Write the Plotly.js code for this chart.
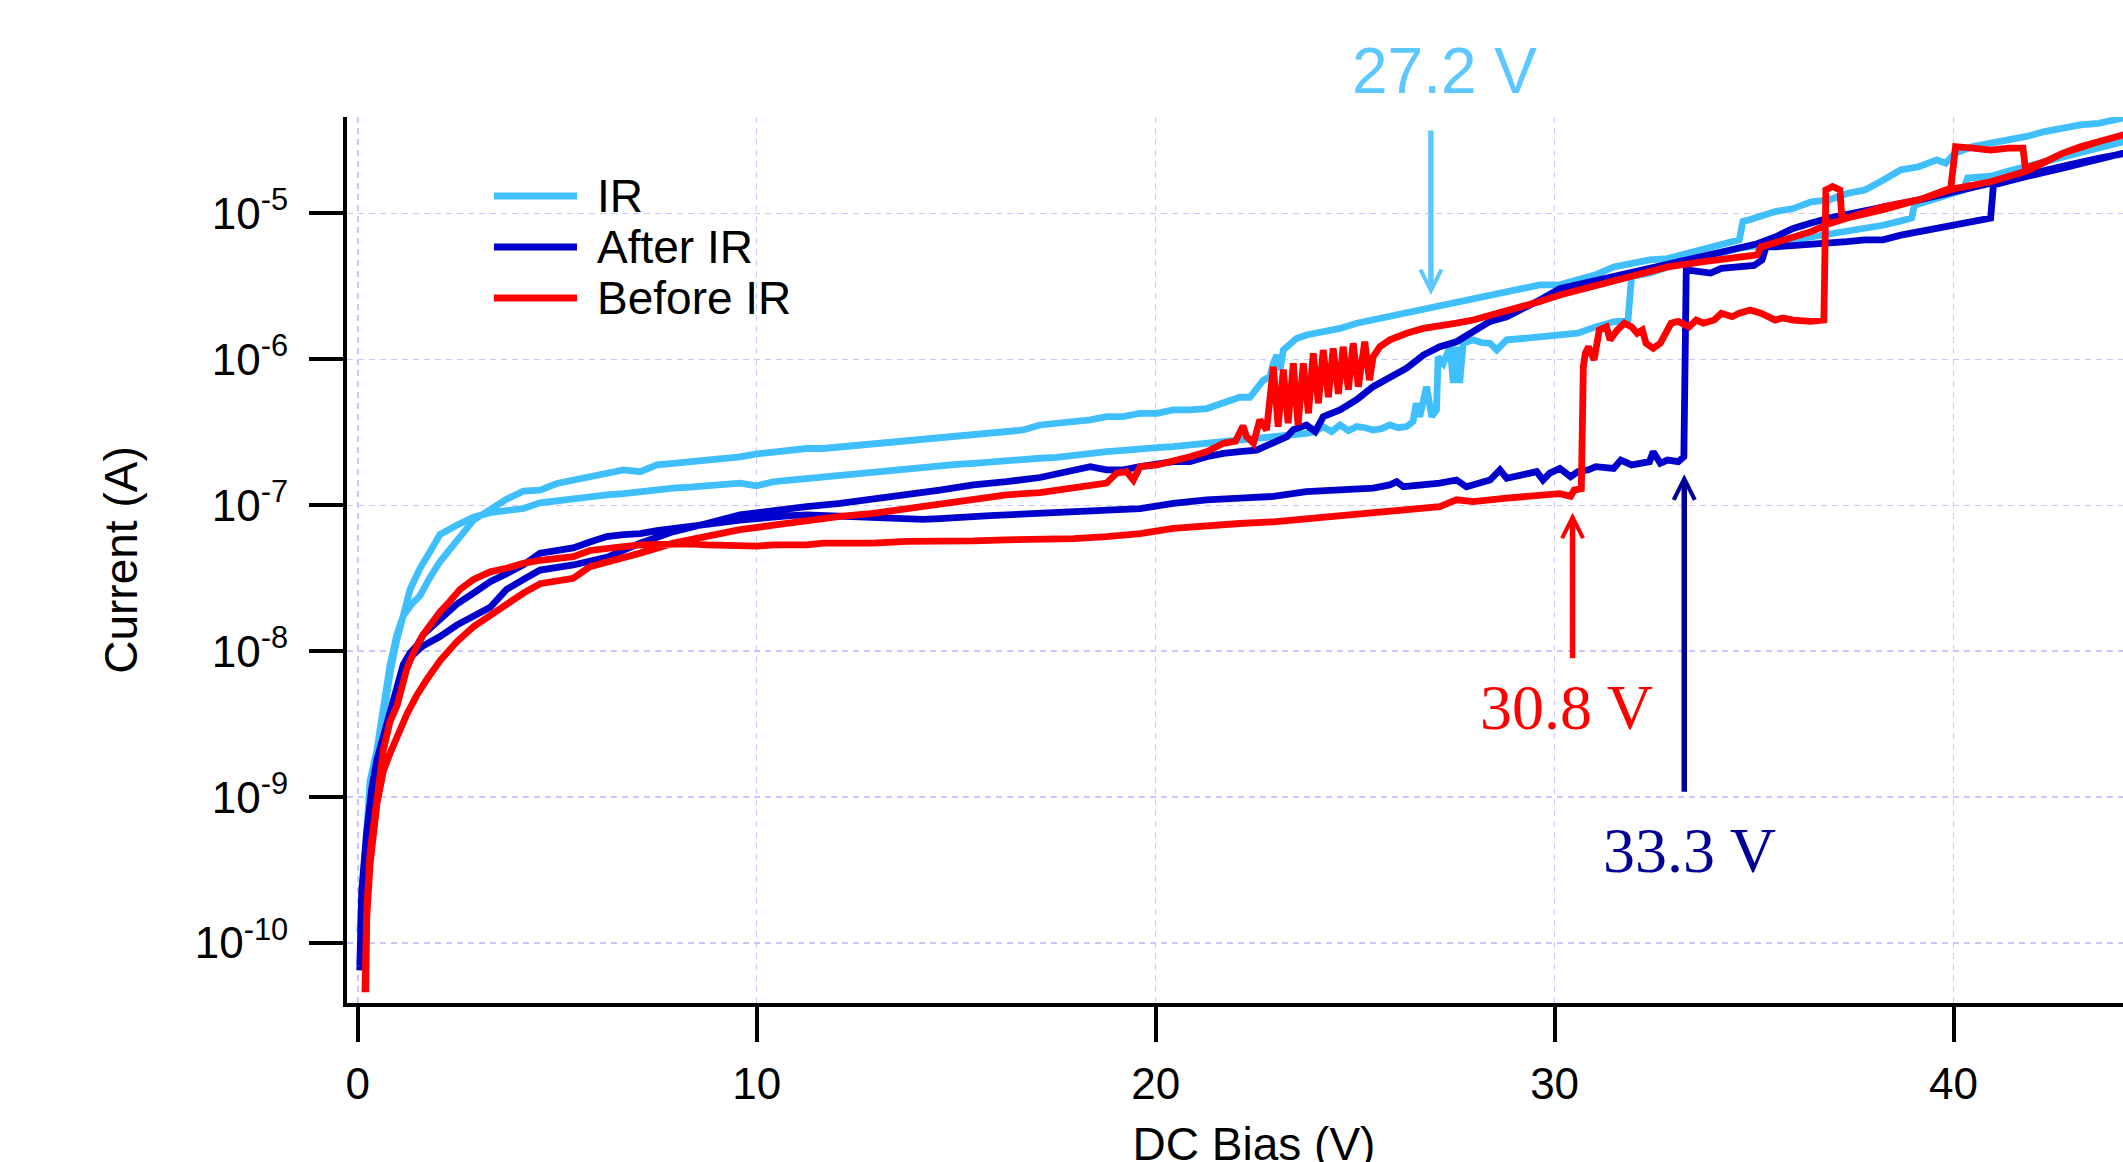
<!DOCTYPE html>
<html>
<head>
<meta charset="utf-8">
<script src="https://cdn.plot.ly/plotly-3.0.1.min.js"></script>
<style>
html,body{margin:0;padding:0;background:#fff;overflow:hidden;}
#wrap{width:2123px;height:1162px;overflow:hidden;position:relative;}
#plot{width:2170px;height:1200px;}
</style>
</head>
<body>
<div id="wrap"><div id="plot"></div></div>
<script>
// ---------- data (DC bias in V, current in A) ----------
const irUpV = [0.05,0.31,0.48,0.64,0.81,0.98,1.14,1.31,1.56,1.81,2.06,2.48,2.90,3.32,3.73,4.15,4.57,5.0,5.40,5.82,6.24,6.66,7.08,7.50,7.91,8.33,8.75,9.17,9.58,10.0,10.42,10.84,11.25,11.67,12.09,12.51,12.92,13.34,13.76,14.17,14.59,15.01,15.43,15.85,16.26,16.68,17.10,17.52,17.94,18.36,18.77,19.19,19.61,20.03,20.44,20.86,21.28,21.70,22.11,22.53,22.95,23.37,23.78,24.0,24.20,24.41,24.62,24.83,25.04,25.25,25.45,25.66,25.87,26.08,26.29,26.45,26.53,26.62,26.79,26.92,27.04,27.08,27.21,27.38,27.46,27.54,27.62,27.71,27.96,28.17,28.38,28.55,28.80,29.21,29.63,30.13,30.58,31.03,31.48,31.84,31.93,32.38,32.83,33.28,33.73,34.18,34.63,35.08,35.53,35.98,36.43,36.88,37.33,37.78,38.23,38.68,38.95,39.02,39.58,40.03,40.25,40.35,40.93,41.38,41.83,42.28,42.73,43.18,43.63,44.24,45.0];
const irUpI = [1.2e-10,1.3e-9,2.1e-9,4.2e-9,8.1e-9,1.3e-8,1.75e-8,2.65e-8,3.7e-8,4.8e-8,6.3e-8,7.3e-8,8.3e-8,8.9e-8,9.2e-8,9.5e-8,1.04e-7,1.08e-7,1.12e-7,1.15e-7,1.18e-7,1.2e-7,1.24e-7,1.27e-7,1.31e-7,1.33e-7,1.36e-7,1.38e-7,1.42e-7,1.36e-7,1.45e-7,1.49e-7,1.53e-7,1.57e-7,1.61e-7,1.65e-7,1.7e-7,1.74e-7,1.79e-7,1.84e-7,1.89e-7,1.91e-7,1.94e-7,1.99e-7,2.04e-7,2.08e-7,2.1e-7,2.13e-7,2.21e-7,2.26e-7,2.33e-7,2.38e-7,2.45e-7,2.48e-7,2.52e-7,2.6e-7,2.66e-7,2.74e-7,2.8e-7,2.88e-7,2.95e-7,3.0e-7,3.11e-7,3.2e-7,3.46e-7,3.2e-7,3.55e-7,3.25e-7,3.46e-7,3.4e-7,3.28e-7,3.35e-7,3.55e-7,3.4e-7,3.46e-7,3.74e-7,5.0e-7,4.05e-7,6.5e-7,4.05e-7,4.5e-7,1.04e-6,9.4e-7,1.22e-6,6.9e-7,1.22e-6,6.9e-7,1.29e-6,1.36e-6,1.3e-6,1.29e-6,1.16e-6,1.36e-6,1.39e-6,1.43e-6,1.5e-6,1.51e-6,1.67e-6,1.81e-6,1.86e-6,3.7e-6,3.9e-6,4.3e-6,4.6e-6,5.0e-6,5.4e-6,5.8e-6,6.0e-6,6.3e-6,6.6e-6,6.9e-6,7.1e-6,7.6e-6,7.9e-6,8.3e-6,8.9e-6,9.3e-6,1.14e-5,1.26e-5,1.4e-5,1.45e-5,1.75e-5,1.8e-5,1.95e-5,2.1e-5,2.25e-5,2.4e-5,2.6e-5,2.8e-5,3.1e-5,3.4e-5];
const irDownV = [45.0,44.24,43.63,43.18,42.73,42.28,41.83,41.38,40.93,40.48,40.03,39.8,39.58,39.13,38.68,38.45,38.23,37.78,37.33,36.88,36.43,35.98,35.53,34.85,34.72,34.63,34.18,33.73,33.28,32.83,32.38,31.93,31.48,31.03,30.58,30.13,29.63,29.21,28.80,28.38,27.96,27.54,27.12,26.71,26.29,25.87,25.45,25.04,24.62,24.20,23.78,23.53,23.37,23.20,23.12,23.04,22.95,22.86,22.70,22.53,22.36,22.11,21.70,21.28,20.86,20.44,20.03,19.61,19.19,18.77,18.36,17.94,17.52,17.10,16.68,16.26,15.85,15.43,15.01,14.59,14.17,13.76,13.34,12.92,12.51,12.09,11.67,11.25,10.84,10.42,10.0,9.58,9.17,8.75,8.33,7.91,7.50,7.08,6.66,6.24,5.82,5.40,4.99,4.57,4.15,3.73,3.32,2.90,2.48,2.06,1.81,1.56,1.35,1.14,0.98,0.81,0.64,0.48,0.31,0.1];
const irDownI = [4.7e-5,4.5e-5,4.15e-5,4.04e-5,3.84e-5,3.64e-5,3.37e-5,3.19e-5,3.03e-5,2.87e-5,2.58e-5,2.21e-5,2.33e-5,2.09e-5,1.99e-5,1.85e-5,1.69e-5,1.45e-5,1.37e-5,1.24e-5,1.2e-5,1.08e-5,1.03e-5,9.0e-6,8.8e-6,6.6e-6,6.1e-6,5.6e-6,5.3e-6,4.9e-6,4.8e-6,4.55e-6,4.3e-6,3.8e-6,3.5e-6,3.24e-6,3.24e-6,3.07e-6,2.91e-6,2.76e-6,2.62e-6,2.49e-6,2.36e-6,2.24e-6,2.07e-6,1.96e-6,1.86e-6,1.77e-6,1.63e-6,1.55e-6,1.47e-6,1.39e-6,1.29e-6,1.16e-6,8.5e-7,1.07e-6,9.4e-7,7.6e-7,7.2e-7,6.2e-7,5.5e-7,5.5e-7,5.0e-7,4.6e-7,4.5e-7,4.5e-7,4.27e-7,4.27e-7,4.05e-7,4.05e-7,3.85e-7,3.74e-7,3.65e-7,3.55e-7,3.28e-7,3.2e-7,3.2e-7,3.11e-7,2.99e-7,2.92e-7,2.83e-7,2.8e-7,2.69e-7,2.66e-7,2.59e-7,2.52e-7,2.45e-7,2.45e-7,2.39e-7,2.33e-7,2.25e-7,2.15e-7,2.1e-7,2.07e-7,2.04e-7,1.94e-7,1.89e-7,1.7e-7,1.75e-7,1.66e-7,1.57e-7,1.49e-7,1.41e-7,1.27e-7,1.25e-7,1.1e-7,9.4e-8,7.9e-8,5.7e-8,4.1e-8,3.2e-8,2.4e-8,2.1e-8,1.75e-8,1.2e-8,7.1e-9,3.5e-9,1.8e-9,1.0e-9,2.0e-10];

const afterUpV = [0.05,0.10,0.22,0.35,0.48,0.64,0.81,0.98,1.14,1.31,1.48,1.64,2.06,2.48,2.90,3.32,3.73,4.15,4.57,5.0,5.40,5.82,6.24,6.66,7.08,7.50,7.91,8.33,8.75,9.17,9.58,10.0,10.42,10.84,11.25,11.67,12.09,12.51,12.92,13.34,13.76,14.17,14.59,15.01,15.43,15.85,16.26,16.68,17.10,17.94,18.77,19.61,20.44,21.28,22.11,22.95,23.78,24.62,25.45,25.87,26.04,26.21,26.71,27.12,27.54,27.79,28.38,28.63,28.80,29.21,29.55,29.71,29.88,30.13,30.40,30.58,30.85,31.03,31.48,31.66,31.93,32.38,32.47,32.65,32.83,33.10,33.24,33.30,33.55,33.91,34.18,34.63,35.0,35.2,35.3,35.53,36.43,36.88,37.33,37.78,38.23,38.68,39.13,39.58,40.03,40.48,40.93,41.0,41.38,41.83,42.73,43.63,44.24,45.0];
const afterUpI = [6.5e-11,2.3e-10,5.6e-10,1.14e-9,1.8e-9,2.6e-9,4.0e-9,6.0e-9,8.1e-9,9.7e-9,1.09e-8,1.3e-8,1.65e-8,2.1e-8,2.5e-8,3.0e-8,3.4e-8,3.9e-8,4.7e-8,4.9e-8,5.1e-8,5.6e-8,6.1e-8,6.3e-8,6.4e-8,6.7e-8,6.95e-8,7.2e-8,7.5e-8,7.7e-8,7.9e-8,8.1e-8,8.4e-8,8.5e-8,8.6e-8,8.5e-8,8.4e-8,8.2e-8,8.1e-8,8.0e-8,7.9e-8,8.0e-8,8.1e-8,8.3e-8,8.4e-8,8.5e-8,8.6e-8,8.7e-8,8.7e-8,9.0e-8,9.3e-8,9.5e-8,1.03e-7,1.09e-7,1.12e-7,1.15e-7,1.24e-7,1.27e-7,1.31e-7,1.38e-7,1.45e-7,1.34e-7,1.38e-7,1.42e-7,1.49e-7,1.34e-7,1.49e-7,1.75e-7,1.53e-7,1.61e-7,1.7e-7,1.49e-7,1.66e-7,1.79e-7,1.57e-7,1.7e-7,1.75e-7,1.84e-7,1.79e-7,2.04e-7,1.89e-7,1.99e-7,2.33e-7,1.94e-7,2.04e-7,1.99e-7,2.15e-7,4.1e-6,3.99e-6,3.9e-6,4.2e-6,4.3e-6,4.4e-6,4.8e-6,5.9e-6,5.9e-6,6.1e-6,6.2e-6,6.4e-6,6.6e-6,6.6e-6,7.1e-6,7.5e-6,7.9e-6,8.3e-6,8.8e-6,9.3e-6,1.57e-5,1.65e-5,1.79e-5,2.04e-5,2.33e-5,2.58e-5,2.8e-5];
const afterDownV = [45.0,44.24,43.63,42.73,41.83,40.93,40.03,39.13,38.23,37.33,36.88,36.43,35.98,35.53,35.08,34.63,33.73,32.83,31.93,31.03,30.13,29.63,29.21,28.80,28.38,27.96,27.54,27.12,26.71,26.29,25.87,25.45,25.04,24.62,24.20,24.0,23.78,23.60,23.45,23.29,22.95,22.53,22.11,21.70,21.28,20.86,20.44,20.03,19.61,19.19,18.77,18.36,17.94,17.52,17.10,16.26,15.43,14.59,13.76,12.92,12.09,11.25,10.42,10.0,9.58,8.75,7.91,7.08,6.24,5.40,4.57,4.15,3.73,3.32,2.90,2.48,2.06,1.64,1.48,1.31,1.14,0.98,0.81,0.64,0.48,0.35,0.22,0.10,0.05];
const afterDownI = [2.8e-5,2.58e-5,2.39e-5,2.1e-5,1.84e-5,1.57e-5,1.41e-5,1.24e-5,1.11e-5,1.0e-5,9.3e-6,8.6e-6,7.9e-6,6.9e-6,6.2e-6,5.8e-6,5.1e-6,4.4e-6,3.9e-6,3.4e-6,3.05e-6,2.55e-6,2.24e-6,1.96e-6,1.82e-6,1.55e-6,1.32e-6,1.22e-6,1.07e-6,8.7e-7,7.6e-7,6.5e-7,5.3e-7,4.5e-7,4.05e-7,3.2e-7,3.55e-7,3.46e-7,3.3e-7,2.95e-7,2.66e-7,2.39e-7,2.33e-7,2.27e-7,2.15e-7,1.99e-7,1.99e-7,1.94e-7,1.84e-7,1.75e-7,1.75e-7,1.84e-7,1.75e-7,1.62e-7,1.55e-7,1.45e-7,1.38e-7,1.27e-7,1.18e-7,1.12e-7,1.03e-7,9.8e-8,9.3e-8,9.0e-8,8.6e-8,7.5e-8,6.6e-8,5.5e-8,4.4e-8,3.9e-8,3.6e-8,3.1e-8,2.65e-8,2.0e-8,1.75e-8,1.51e-8,1.26e-8,1.09e-8,1.0e-8,9.0e-9,7.5e-9,5.5e-9,3.8e-9,2.5e-9,1.7e-9,1.05e-9,5.0e-10,2.0e-10,7.0e-11];

const beforeUpV = [0.18,0.225,0.31,0.39,0.48,0.64,0.81,0.98,1.23,1.39,1.64,1.90,2.06,2.31,2.56,2.90,3.32,3.73,4.15,4.57,5.0,5.40,5.82,6.24,6.66,7.08,7.50,7.91,8.33,8.75,9.17,9.58,10.0,10.42,11.25,11.67,12.09,12.92,13.76,14.59,15.43,16.26,17.10,17.94,18.77,19.61,20.44,21.28,22.11,22.95,23.78,24.62,25.45,26.29,27.12,27.54,27.96,28.80,29.21,29.63,30.13,30.40,30.49,30.67,30.72,30.77,30.85,30.99,31.12,31.30,31.39,31.57,31.75,31.93,32.07,32.20,32.29,32.47,32.65,32.83,32.92,33.10,33.37,33.55,33.73,34.0,34.18,34.45,34.63,34.90,35.17,35.53,35.71,35.98,36.43,36.75,36.80,36.97,37.15,37.20,37.33,38.23,39.13,39.93,40.05,40.48,40.93,41.38,41.74,41.80,42.28,42.73,43.18,43.63,44.24,45.0];
const beforeUpI = [4.6e-11,1.7e-10,4.2e-10,6.3e-10,1.14e-9,2.1e-9,3.3e-9,4.2e-9,7.6e-9,9.7e-9,1.3e-8,1.65e-8,1.86e-8,2.2e-8,2.65e-8,3.1e-8,3.5e-8,3.7e-8,4.0e-8,4.2e-8,4.3e-8,4.45e-8,4.9e-8,5.1e-8,5.2e-8,5.35e-8,5.4e-8,5.5e-8,5.45e-8,5.35e-8,5.3e-8,5.2e-8,5.25e-8,5.35e-8,5.35e-8,5.5e-8,5.5e-8,5.5e-8,5.65e-8,5.6e-8,5.7e-8,5.8e-8,5.8e-8,5.9e-8,6.1e-8,6.4e-8,6.95e-8,7.3e-8,7.5e-8,7.7e-8,8.1e-8,8.6e-8,9.0e-8,9.5e-8,9.8e-8,1.09e-7,1.06e-7,1.12e-7,1.15e-7,1.17e-7,1.2e-7,1.15e-7,1.27e-7,1.3e-7,8.9e-7,1.1e-6,1.22e-6,9.9e-7,1.59e-6,1.67e-6,1.36e-6,1.59e-6,1.77e-6,1.67e-6,1.51e-6,1.59e-6,1.29e-6,1.19e-6,1.29e-6,1.59e-6,1.77e-6,1.82e-6,1.67e-6,1.86e-6,1.77e-6,1.86e-6,2.07e-6,1.96e-6,2.07e-6,2.18e-6,2.07e-6,1.86e-6,1.92e-6,1.86e-6,1.82e-6,1.86e-6,1.45e-5,1.53e-5,1.45e-5,9.5e-6,9.3e-6,1.06e-5,1.24e-5,1.49e-5,2.87e-5,2.8e-5,2.72e-5,2.8e-5,2.8e-5,2.04e-5,2.26e-5,2.58e-5,2.87e-5,3.1e-5,3.45e-5,3.8e-5];
const beforeDownV = [45.0,44.24,43.63,42.73,41.83,40.93,40.03,39.13,38.23,37.33,36.88,36.43,35.53,35.17,35.08,34.63,33.73,32.83,31.93,31.03,30.13,29.63,29.21,28.80,28.38,27.96,27.54,27.12,26.71,26.29,25.87,25.62,25.45,25.36,25.24,25.08,24.95,24.83,24.70,24.58,24.45,24.33,24.20,24.08,23.95,23.83,23.70,23.57,23.45,23.32,23.20,23.07,22.95,22.78,22.61,22.45,22.28,22.19,22.0,21.70,21.28,20.86,20.44,20.03,19.61,19.44,19.27,19.02,18.77,17.94,17.10,16.26,15.43,14.59,13.76,12.92,12.09,11.25,10.42,9.58,8.75,7.91,7.08,6.24,5.82,5.40,4.57,4.15,3.73,3.32,2.90,2.48,2.06,1.73,1.48,1.23,1.06,0.81,0.64,0.48,0.31,0.225,0.2];
const beforeDownI = [3.8e-5,3.45e-5,3.1e-5,2.58e-5,1.95e-5,1.65e-5,1.48e-5,1.24e-5,1.11e-5,9.3e-6,8.5e-6,7.5e-6,6.2e-6,5.9e-6,5.2e-6,5.06e-6,4.68e-6,4.3e-6,3.7e-6,3.24e-6,2.76e-6,2.49e-6,2.3e-6,2.12e-6,1.96e-6,1.86e-6,1.77e-6,1.72e-6,1.63e-6,1.51e-6,1.36e-6,1.22e-6,1.04e-6,7.2e-7,1.32e-6,6.5e-7,1.29e-6,6.2e-7,1.22e-6,5.8e-7,1.19e-6,5.5e-7,1.16e-6,5.0e-7,1.1e-6,4.27e-7,9.4e-7,3.55e-7,9.4e-7,3.65e-7,8.5e-7,3.46e-7,8.9e-7,3.28e-7,3.85e-7,2.66e-7,2.95e-7,3.5e-7,2.75e-7,2.66e-7,2.33e-7,2.15e-7,1.99e-7,1.89e-7,1.84e-7,1.49e-7,1.7e-7,1.66e-7,1.42e-7,1.31e-7,1.22e-7,1.18e-7,1.09e-7,1.03e-7,9.3e-8,8.8e-8,8.4e-8,7.9e-8,7.3e-8,6.8e-8,6.1e-8,5.5e-8,4.7e-8,4.1e-8,3.8e-8,3.16e-8,2.9e-8,2.5e-8,2.1e-8,1.75e-8,1.47e-8,1.16e-8,8.6e-9,6.4e-9,5.0e-9,3.7e-9,2.95e-9,2.0e-9,1.5e-9,9.0e-10,3.5e-10,1.5e-10,4.6e-11];

const seriesNames = ['IR', 'After IR', 'Before IR'];
const xTickVals = [0, 10, 20, 30, 40];
const xTickText = ['0', '10', '20', '30', '40'];
const yTickVals = [1e-10, 1e-9, 1e-8, 1e-7, 1e-6, 1e-5];
const yTickText = ['10<sup>-10</sup>', '10<sup>-9</sup>', '10<sup>-8</sup>', '10<sup>-7</sup>', '10<sup>-6</sup>', '10<sup>-5</sup>'];
// breakdown markers: label, voltage, current at arrow tip
const markLabels = ['27.2 V', '30.8 V', '33.3 V'];
const markV = [26.9, 30.45, 33.25];
const markI = [2.76e-6, 8.9e-8, 1.63e-7];

// ---------- styling ----------
const colors = ['#40bfff', '#0000cc', '#ff0000'];
const markColors = ['#5cc8ff', '#ff0000', '#000099'];
const SANS = 'Liberation Sans, Arial, Helvetica, sans-serif';
const SERIF = 'Liberation Serif, Times New Roman, serif';

const traces = [
  {x: irUpV.concat(irDownV), y: irUpI.concat(irDownI), name: seriesNames[0]},
  {x: afterUpV.concat(afterDownV), y: afterUpI.concat(afterDownI), name: seriesNames[1]},
  {x: beforeUpV.concat(beforeDownV), y: beforeUpI.concat(beforeDownI), name: seriesNames[2]}
].map((t, i) => Object.assign(t, {
  type: 'scatter', mode: 'lines', showlegend: false,
  line: {color: colors[i], width: 6.8, shape: 'linear'}
}));

const annotations = [];
// annotation text labels
const labelPos = [{x: 27.25, y: 1.052, font: SANS}, {x: 30.29, y: 0.334, font: SERIF}, {x: 33.39, y: 0.1716, font: SERIF}];
markLabels.forEach((txt, i) => {
  annotations.push({
    text: txt, xref: 'x', yref: 'paper', x: labelPos[i].x, y: labelPos[i].y,
    xanchor: 'center', yanchor: 'middle', showarrow: false,
    font: {family: labelPos[i].font, size: 64, color: markColors[i]}
  });
});
// arrows (pixel offsets for the tails)
const arrowTail = [-166, 147, 319];
markV.forEach((v, i) => {
  annotations.push({
    text: '', xref: 'x', yref: 'y', x: v, y: Math.log10(markI[i]),
    ax: 0, ay: arrowTail[i], axref: 'pixel', ayref: 'pixel',
    showarrow: true, arrowhead: 5, arrowsize: 0.75, arrowwidth: 5.5,
    arrowcolor: markColors[i]
  });
});
// legend text
const legY = [0.9108, 0.8533, 0.7957];
const shapes = [];
seriesNames.forEach((n, i) => {
  annotations.push({
    text: n, xref: 'paper', yref: 'paper', x: 0.1367, y: legY[i],
    xanchor: 'left', yanchor: 'middle', showarrow: false,
    font: {family: SANS, size: 46, color: '#000'}
  });
  shapes.push({
    type: 'line', xref: 'paper', yref: 'paper', x0: 0.0810, x1: 0.1268, y0: legY[i], y1: legY[i],
    line: {color: colors[i], width: 7}
  });
});

const layout = {
  width: 2170, height: 1200,
  margin: {l: 347, r: 9, t: 117, b: 197, pad: 0},
  paper_bgcolor: '#fff', plot_bgcolor: '#fff',
  font: {family: SANS, color: '#000'},
  showlegend: false,
  xaxis: {
    type: 'linear', range: [-0.27, 45.2],
    tickmode: 'array', tickvals: xTickVals, ticktext: xTickText,
    ticks: 'outside', ticklen: 35, tickwidth: 4, tickcolor: '#000',
    ticklabelstandoff: 4,
    tickfont: {family: SANS, size: 44, color: '#000'},
    showline: true, linewidth: 4, linecolor: '#000', mirror: false,
    showgrid: true, gridcolor: '#c8c8ff', gridwidth: 1.5, griddash: '6px,5px',
    zeroline: false, automargin: false,
    title: {text: 'DC Bias (V)', font: {family: SANS, size: 46, color: '#000'}, standoff: 22}
  },
  yaxis: {
    type: 'log', range: [-10.411, -4.339],
    tickmode: 'array', tickvals: yTickVals, ticktext: yTickText,
    ticks: 'outside', ticklen: 34, tickwidth: 4, tickcolor: '#000',
    ticklabelstandoff: 12,
    tickfont: {family: SANS, size: 44, color: '#000'},
    showline: true, linewidth: 4, linecolor: '#000', mirror: false,
    showgrid: true, gridcolor: '#c8c8ff', gridwidth: 1.5, griddash: '6px,5px',
    zeroline: false, automargin: false,
    title: {text: 'Current (A)', font: {family: SANS, size: 46, color: '#000'}, standoff: 44}
  },
  annotations: annotations,
  shapes: shapes
};

Plotly.newPlot('plot', traces, layout, {displayModeBar: false, staticPlot: true});
</script>
</body>
</html>
